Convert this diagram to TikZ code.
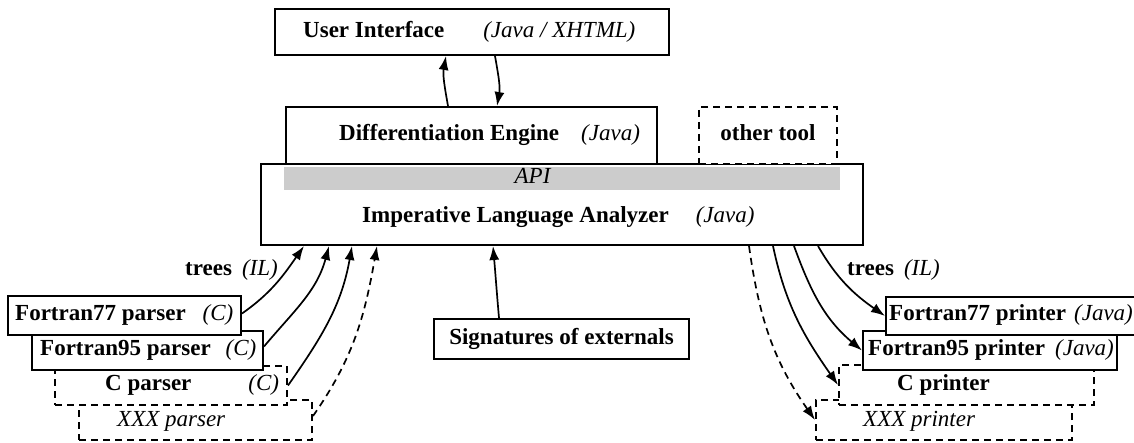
\documentclass[tikz,border=0pt]{standalone}
\usepackage{fontspec}
\setmainfont{Liberation Serif}
\usetikzlibrary{arrows.meta}
\begin{document}
\begin{tikzpicture}[x=1pt,y=-1pt,
  font=\fontsize{23}{27}\selectfont,
  box/.style={draw,line width=2pt,fill=white,inner sep=0pt,minimum width=#1},
  dbox/.style={box=#1,dash pattern=on 7pt off 5pt},
  lbl/.style={inner sep=0pt,anchor=mid west,yshift=-3pt},
  clbl/.style={inner sep=0pt,anchor=mid,yshift=-3pt},
  conn/.style={line width=1.7pt,-{Latex[length=14pt,width=10pt]}},
  dconn/.style={conn,dash pattern=on 7pt off 5pt}]
\useasboundingbox (0,0) rectangle (1134,443);

% top part
\node[box=394pt,minimum height=46pt] (ui) at (472,32) {};
\node[lbl] (uit) at (303,32) {\textbf{User Interface}\hspace{39pt}\textit{(Java / XHTML)}};
\node[box=602pt,minimum height=81pt] (ila) at (562,204.5) {};
\node[box=371pt,minimum height=57pt] (de) at (471.5,135.5) {};
\node[lbl] (det) at (339,135) {\textbf{Differentiation Engine}\hspace{22pt}\textit{(Java)}};
\node[dbox=138pt,minimum height=57pt] (ot) at (768,135.5) {};
\node[clbl] (ott) at (768,135) {\textbf{other tool}};
\node[fill=black!20,inner sep=0pt,minimum width=556pt,minimum height=23pt] (api) at (562,178.5) {};
\node[clbl] (apit) at (533,178) {\textit{API}};
\node[lbl] (ilat) at (362,217) {\textbf{Imperative Language Analyzer}\hspace{27pt}\textit{(Java)}};

\draw[conn] ([xshift=-23.5pt]de.north) to[out=100,in=-100] ([xshift=-26pt]ui.south);
\draw[conn] ([xshift=23pt]ui.south) to[out=-80,in=80] ([xshift=25.5pt]de.north);

% signatures
\node[box=255pt,minimum height=40pt] (sig) at (561.5,339) {};
\node[clbl] (sigt) at (561.5,339) {\textbf{Signatures of externals}};
\draw[conn] ([xshift=-62.5pt]sig.north) to[out=95,in=-85] ([xshift=-69pt]ila.south);

% parsers
\node[dbox=233pt,minimum height=40pt] (xp) at (195.5,420) {};
\node[lbl] (xpt) at (117,421) {\textit{XXX parser}};
\node[dbox=232pt,minimum height=39pt] (cp) at (171,385.5) {};
\node[lbl] (cpt) at (105,385) {\textbf{C parser}\hspace{57pt}\textit{(C)}};
\node[box=231pt,minimum height=39pt] (f95p) at (147.5,350.5) {};
\node[lbl] (f95pt) at (40,350) {\textbf{Fortran95 parser}\hspace{15pt}\textit{(C)}};
\node[box=233pt,minimum height=39pt] (f77p) at (124.5,315.5) {};
\node[lbl] (f77pt) at (15,315) {\textbf{Fortran77 parser}\hspace{17pt}\textit{(C)}};
\node[lbl] (treesl) at (185,270) {\textbf{trees}\hspace{10pt}\textit{(IL)}};

\draw[conn] ([yshift=2pt]f77p.east) to[out=35,in=-125] ([xshift=44pt]ila.south west);
\draw[conn] ([yshift=4pt]f95p.east) to[out=50,in=-105] ([xshift=69pt]ila.south west);
\draw[conn] (cp.east) to[out=55,in=-100] ([xshift=92pt]ila.south west);
\draw[dconn] ([yshift=4pt]xp.east) to[out=55,in=-100] ([xshift=117pt]ila.south west);

% printers
\node[dbox=256pt,minimum height=40pt] (xpr) at (944,420) {};
\node[lbl] (xprt) at (863,421) {\textit{XXX printer}};
\node[dbox=255pt,minimum height=40pt] (cpr) at (966.5,385) {};
\node[lbl] (cprt) at (897,385) {\textbf{C printer}};
\node[box=254pt,minimum height=39pt] (f95pr) at (990,350.5) {};
\node[lbl] (f95prt) at (868,350) {\textbf{Fortran95 printer}\hspace{10pt}\textit{(Java)}};
\node[box=254pt,minimum height=38pt] (f77pr) at (1013,316) {};
\node[lbl] (f77prt) at (889,315) {\textbf{Fortran77 printer}\hspace{8pt}\textit{(Java)}};
\node[lbl] (treesr) at (847,270) {\textbf{trees}\hspace{10pt}\textit{(IL)}};

\draw[conn] ([xshift=-46pt]ila.south east) to[out=-60,in=145] (f77pr.west);
\draw[conn] ([xshift=-70pt]ila.south east) to[out=-70,in=140] (f95pr.west);
\draw[conn] ([xshift=-91pt]ila.south east) to[out=-78,in=125] (cpr.west);
\draw[dconn] ([xshift=-115pt]ila.south east) to[out=-82,in=125] (xpr.west);
\end{tikzpicture}
\end{document}
